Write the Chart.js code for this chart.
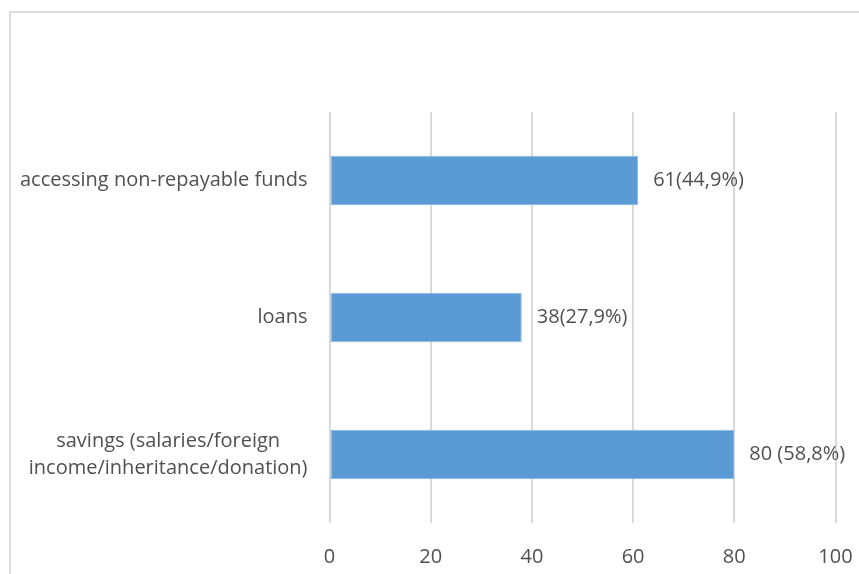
<!DOCTYPE html>
<html>
<head>
<meta charset="utf-8">
<script src="https://cdn.jsdelivr.net/npm/chart.js@4.4.1/dist/chart.umd.min.js"></script>
<style>
  html, body { margin: 0; padding: 0; background: #fff; overflow: hidden; }
  #frame {
    position: absolute; left: 9px; top: 11px;
    width: 900px; height: 600px;
    border: 2px solid #dcdcdc; box-sizing: border-box;
  }
  #wrap { position: absolute; left: 0; top: 0; width: 859px; height: 574px; }
</style>
</head>
<body>
<div id="frame"></div>
<div id="wrap"><canvas id="chart"></canvas></div>
<script>
// Datos del gráfico
const categories = [
    ['accessing non-repayable funds'],
    ['loans'],
    ['savings (salaries/foreign', 'income/inheritance/donation)']
];
const values = [61, 38, 80];
const valueLabels = ['61(44,9%)', '38(27,9%)', '80 (58,8%)'];
const xTicks = [0, 20, 40, 60, 80, 100];

const FONT = '"Open Sans", Lato, sans-serif';
const TEXT_COLOR = '#505050';
const FONT_SIZE = 20;

// Etiquetas de categoría (líneas centradas entre sí, bloque alineado a la derecha)
const categoryLabelsPlugin = {
    id: 'categoryLabels',
    afterDraw(chart) {
        const ctx = chart.ctx;
        const yScale = chart.scales.y;
        const rightEdge = chart.chartArea.left - 22;
        const lineH = 27;
        ctx.save();
        ctx.font = `${FONT_SIZE}px ${FONT}`;
        ctx.fillStyle = TEXT_COLOR;
        ctx.textBaseline = 'middle';
        ctx.textAlign = 'center';
        categories.forEach((lines, i) => {
            const cy = yScale.getPixelForValue(i);
            const widest = Math.max(...lines.map(l => ctx.measureText(l).width));
            const cx = rightEdge - widest / 2;
            const top = cy - (lines.length - 1) * lineH / 2;
            lines.forEach((l, j) => ctx.fillText(l, cx, top + j * lineH));
        });
        ctx.restore();
    }
};

// Etiquetas de valor al final de cada barra
const valueLabelsPlugin = {
    id: 'valueLabels',
    afterDatasetsDraw(chart) {
        const ctx = chart.ctx;
        const meta = chart.getDatasetMeta(0);
        ctx.save();
        ctx.font = `${FONT_SIZE}px ${FONT}`;
        ctx.fillStyle = TEXT_COLOR;
        ctx.textBaseline = 'middle';
        ctx.textAlign = 'left';
        meta.data.forEach((bar, i) => {
            ctx.fillText(valueLabels[i], bar.x + 15, bar.y);
        });
        ctx.restore();
    }
};

const ctx = document.getElementById('chart').getContext('2d');
new Chart(ctx, {
    type: 'bar',
    data: {
        labels: categories.map(c => c.join(' ')),
        datasets: [{
            data: values,
            backgroundColor: '#5b9bd5',
            borderColor: '#8bb8e3',
            borderWidth: 1,
            borderSkipped: false,
            categoryPercentage: 1,
            barPercentage: 0.36
        }]
    },
    options: {
        indexAxis: 'y',
        responsive: true,
        maintainAspectRatio: false,
        animation: false,
        layout: { padding: { top: 112, right: 23.5, left: 0, bottom: 0 } },
        scales: {
            x: {
                min: 0,
                max: 100,
                afterBuildTicks(scale) {
                    scale.ticks = xTicks.map(v => ({ value: v }));
                },
                afterFit(scale) {
                    scale.height = 51;
                    scale.paddingLeft = 0;
                    scale.paddingRight = 0;
                },
                grid: { color: '#d9d9d9', lineWidth: 2, drawTicks: false },
                border: { display: false },
                ticks: {
                    color: TEXT_COLOR,
                    padding: 22,
                    font: { family: FONT, size: FONT_SIZE }
                }
            },
            y: {
                afterFit(scale) { scale.width = 329.5; },
                grid: { display: false },
                border: { display: false },
                ticks: { display: false }
            }
        },
        plugins: {
            legend: { display: false },
            tooltip: { enabled: false },
            title: { display: false }
        }
    },
    plugins: [categoryLabelsPlugin, valueLabelsPlugin]
});
</script>
</body>
</html>
